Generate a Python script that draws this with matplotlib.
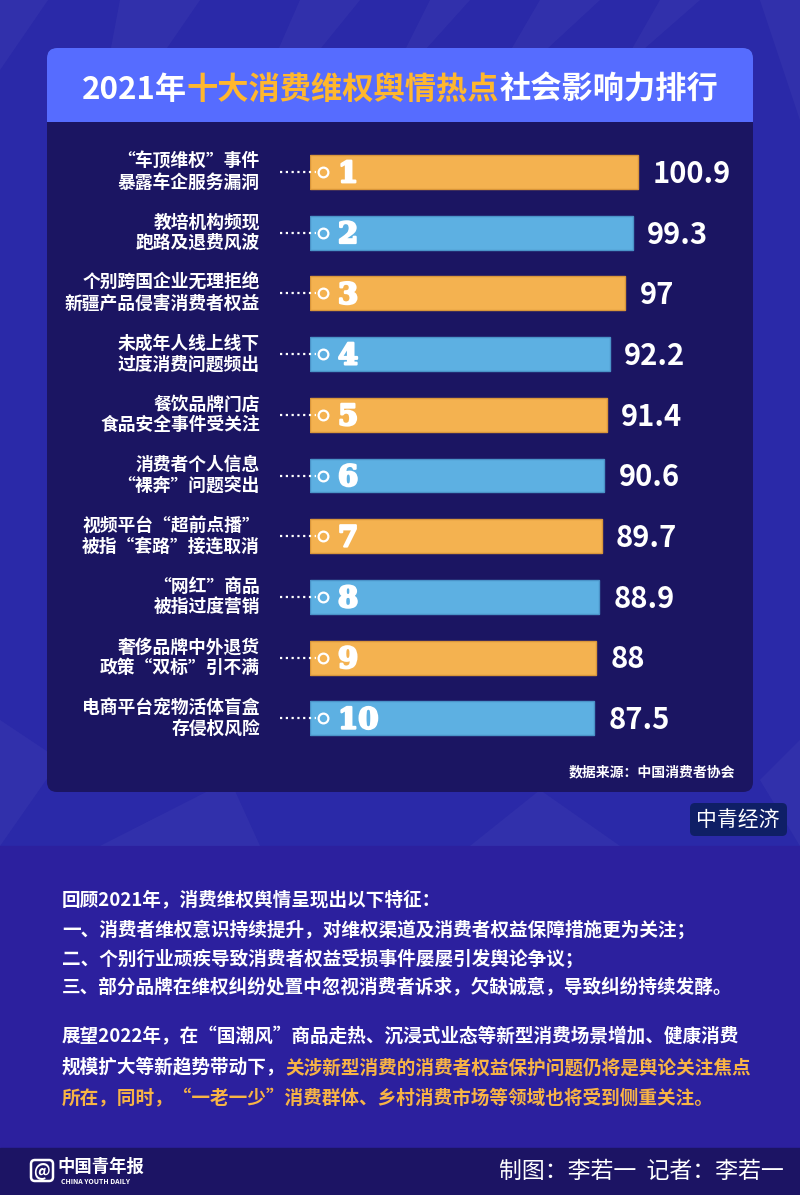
import matplotlib
matplotlib.use("Agg")
import matplotlib.pyplot as plt
import matplotlib.patheffects as pe
from matplotlib.patches import Rectangle, FancyBboxPatch, Polygon

plt.rcParams["font.family"] = ["Noto Sans CJK SC", "DejaVu Sans"]
CJK = ["Noto Sans CJK SC", "DejaVu Sans"]

# ── data ─────────────────────────────────────────────────────────────────────
labels = [
    "“车顶维权”事件\n暴露车企服务漏洞",
    "教培机构频现\n跑路及退费风波",
    "个别跨国企业无理拒绝\n新疆产品侵害消费者权益",
    "未成年人线上线下\n过度消费问题频出",
    "餐饮品牌门店\n食品安全事件受关注",
    "消费者个人信息\n“裸奔”问题突出",
    "视频平台“超前点播”\n被指“套路”接连取消",
    "“网红”商品\n被指过度营销",
    "奢侈品牌中外退货\n政策“双标”引不满",
    "电商平台宠物活体盲盒\n存侵权风险",
]
ranks = [1, 2, 3, 4, 5, 6, 7, 8, 9, 10]
values = [100.9, 99.3, 97, 92.2, 91.4, 90.6, 89.7, 88.9, 88, 87.5]

title_parts = [("2021年", "white"), ("十大消费维权舆情热点", "#FFB72E"),
               ("社会影响力排行", "white")]
source = "数据来源：中国消费者协会"

review_lines = [
    "回顾2021年，消费维权舆情呈现出以下特征：",
    "一、消费者维权意识持续提升，对维权渠道及消费者权益保障措施更为关注；",
    "二、个别行业顽疾导致消费者权益受损事件屡屡引发舆论争议；",
    "三、部分品牌在维权纠纷处置中忽视消费者诉求，欠缺诚意，导致纠纷持续发酵。",
]
outlook_lines = [
    [("展望2022年，在“国潮风”商品走热、沉浸式业态等新型消费场景增加、健康消费", "white")],
    [("规模扩大等新趋势带动下，", "white"),
     ("关涉新型消费的消费者权益保护问题仍将是舆论关注焦点", "#F8B445")],
    [("所在，同时，“一老一少”消费群体、乡村消费市场等领域也将受到侧重关注。", "#F8B445")],
]

ORANGE = "#F4B250"
BLUE = "#5DB0E2"
bar_colors = [ORANGE if i % 2 == 0 else BLUE for i in range(len(values))]
edge_colors = ["#D9963A" if i % 2 == 0 else "#4A93C8" for i in range(len(values))]

# ── figure / background ──────────────────────────────────────────────────────
W, H = 800, 1195
fig = plt.figure(figsize=(W / 100, H / 100), dpi=100)
bg = fig.add_axes([0, 0, 1, 1])
bg.set_xlim(0, W)
bg.set_ylim(H, 0)
bg.axis("off")

bg.add_patch(Rectangle((0, 0), W, 846, color="#2A29A8", zorder=0))
# faint diagonal facets in the top background
facets = [
    [(0, 0), (48, 0), (0, 70)],
    [(120, 0), (200, 0), (90, 160)],
    [(300, 0), (360, 0), (230, 160)],
    [(430, 0), (470, 0), (380, 100)],
    [(540, 0), (600, 0), (470, 120)],
    [(660, 0), (700, 0), (620, 70)],
    [(0, 720), (60, 760), (0, 846)],
    [(100, 846), (230, 780), (260, 846)],
    [(470, 846), (540, 790), (620, 846)],
    [(760, 0), (800, 0), (800, 120)],
    [(760, 780), (800, 740), (800, 846)],
]
for pts in facets:
    bg.add_patch(Polygon(pts, closed=True, color="white", alpha=0.035, lw=0, zorder=0.5))

bg.add_patch(Rectangle((0, 846), W, 302, color="#2C209E", zorder=0))
bg.add_patch(Rectangle((0, 1148), W, 47, color="#1C1464", zorder=0))

# panel
bg.add_patch(FancyBboxPatch((47, 48), 706, 744, boxstyle="round,pad=0,rounding_size=10",
                            fc="#1B1562", ec="none", zorder=1))
bg.add_patch(FancyBboxPatch((47, 48), 706, 100, boxstyle="round,pad=0,rounding_size=10",
                            fc="#566CFF", ec="none", zorder=1.1))
bg.add_patch(Rectangle((47, 122), 706, 40, fc="#1B1562", ec="none", zorder=1.2))

renderer = fig.canvas.get_renderer()


def rich_line(x, y, parts, size, weight="bold", center=False):
    items = []
    cur = x
    for s, c in parts:
        t = bg.text(cur, y, s, color=c, fontsize=size, fontweight=weight,
                    ha="left", va="center_baseline", family=CJK, zorder=5)
        cur += t.get_window_extent(renderer).width
        items.append(t)
    if center:
        shift = (cur - x) / 2
        for t in items:
            px, py = t.get_position()
            t.set_position((px - shift, py))


rich_line(400, 86, title_parts, 22.5, weight="heavy", center=True)

bg.text(735, 772, source, color="white", fontsize=10, fontweight="bold",
        ha="right", va="center", family=CJK, zorder=5)

# badge
bg.add_patch(FancyBboxPatch((690, 803), 97, 33, boxstyle="round,pad=0,rounding_size=5",
                            fc="#0F1F66", ec="none", zorder=2))
bg.text(738, 820, "中青经济", color="white", fontsize=15, fontweight="light",
        ha="center", va="center", family=CJK, zorder=5)

# ── bar chart ────────────────────────────────────────────────────────────────
PX_PER_UNIT = 3.25
top_px, bot_px = 172 - 60.7 * 0.5, 172 + 60.7 * 9.5
ax = fig.add_axes([310 / W, 1 - bot_px / H, 450 / W, (bot_px - top_px) / H])
ax.set_facecolor("none")
ax.set_xlim(0, 450 / PX_PER_UNIT)
ax.set_ylim(len(values) - 0.5, -0.5)
ax.axis("off")

ypos = list(range(len(values)))
ax.barh(ypos, values, height=0.56, color=bar_colors, edgecolor=edge_colors,
        linewidth=1, zorder=2)

thick = [pe.withStroke(linewidth=1.6, foreground="white")]
for i, (lab, r, v) in enumerate(zip(labels, ranks, values)):
    ax.text(-15.4, i, lab, color="white", fontsize=12.8, fontweight="bold",
            ha="right", va="center", linespacing=1.2, family=CJK, clip_on=False)
    ax.plot([-9.2, 1.9], [i, i], color="white", lw=1.6, ls=(0, (1, 1.6)),
            clip_on=False, zorder=3)
    ax.plot([4.0], [i], marker="o", ms=7, mfc="none", mec="white", mew=1.6,
            clip_on=False, zorder=4)
    ax.text(8.6, i + 0.03, str(r), color="white", fontsize=21, fontweight="bold",
            family="DejaVu Serif", ha="left", va="center", zorder=5,
            path_effects=thick)
    ax.text(v + 4.4, i + 0.03, f"{v:g}", color="white", fontsize=21,
            fontweight="bold", ha="left", va="center", family=CJK, clip_on=False)

# ── text below ───────────────────────────────────────────────────────────────
for y, line in zip([898, 928, 957, 986], review_lines):
    bg.text(62, y, line, color="white", fontsize=13.4, fontweight="bold",
            ha="left", va="center_baseline", family=CJK, zorder=5)

for y, parts in zip([1035, 1066, 1097], outlook_lines):
    rich_line(62, y, parts, 13.4)

# footer
bg.add_patch(FancyBboxPatch((31, 1160), 22, 21, boxstyle="round,pad=0,rounding_size=4",
                            fc="none", ec="white", lw=1.8, zorder=5))
bg.text(42, 1171, "@", color="white", fontsize=12, fontweight="bold",
        ha="center", va="center", zorder=6)
bg.text(57, 1167, "中国青年报", color="white", fontsize=12.5, fontweight="heavy",
        ha="left", va="center", family=CJK, zorder=5)
bg.text(61, 1182, "CHINA YOUTH DAILY", color="white", fontsize=5, fontweight="bold",
        ha="left", va="center", zorder=5)
bg.text(784, 1171, "制图：李若一  记者：李若一", color="white", fontsize=16.5,
        ha="right", va="center", family=CJK, zorder=5)

fig.savefig("out.png", dpi=100, facecolor="#2A29A8")
